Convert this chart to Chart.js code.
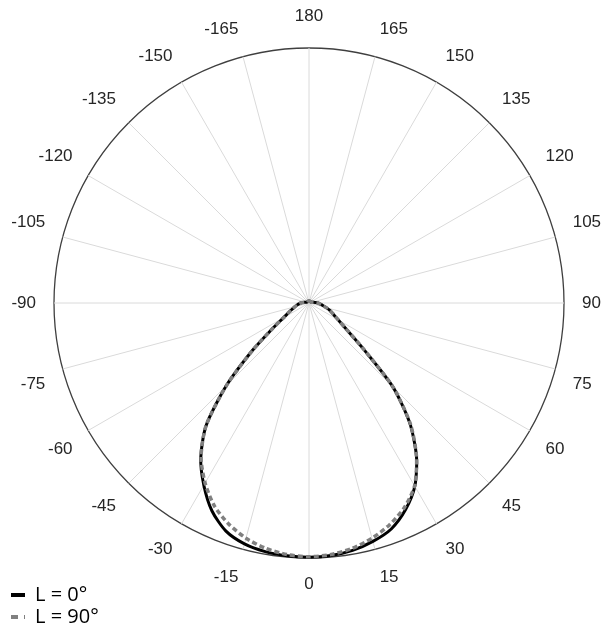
<!DOCTYPE html>
<html>
<head>
<meta charset="utf-8">
<title>Luminous intensity distribution</title>
<script src="https://cdn.jsdelivr.net/npm/chart.js@4.4.1/dist/chart.umd.min.js"></script>
<style>
    html, body { margin: 0; padding: 0; background: #fff; }
    #wrap { width: 606px; height: 629px; position: relative; }
</style>
</head>
<body>
<div id="wrap"><canvas id="polarChart"></canvas></div>
<script>
// gamma angles, clockwise from the top of the diagram (5 degree steps)
const angles = [
    180, 175, 170, 165, 160, 155, 150, 145, 140, 135, 130, 125,
    120, 115, 110, 105, 100, 95, 90, 85, 80, 75, 70, 65,
    60, 55, 50, 45, 40, 35, 30, 25, 20, 15, 10, 5,
    0, -5, -10, -15, -20, -25, -30, -35, -40, -45, -50, -55,
    -60, -65, -70, -75, -80, -85, -90, -95, -100, -105, -110, -115,
    -120, -125, -130, -135, -140, -145, -150, -155, -160, -165, -170, -175
];

// relative intensity, C-plane L = 0°
const intensityL0 = [
    0.008, 0.008, 0.008, 0.008, 0.008, 0.008, 0.008, 0.008, 0.008, 0.008, 0.008, 0.008,
    0.008, 0.008, 0.010, 0.013, 0.018, 0.025, 0.035, 0.043, 0.055, 0.070, 0.088, 0.106,
    0.132, 0.178, 0.275, 0.465, 0.615, 0.735, 0.830, 0.895, 0.943, 0.968, 0.985, 0.994,
    0.997, 0.995, 0.990, 0.978, 0.952, 0.900, 0.825, 0.740, 0.628, 0.458, 0.290, 0.175,
    0.115, 0.088, 0.070, 0.058, 0.048, 0.040, 0.033, 0.025, 0.018, 0.013, 0.010, 0.008,
    0.008, 0.008, 0.008, 0.008, 0.008, 0.008, 0.008, 0.008, 0.008, 0.008, 0.008, 0.008
];

// relative intensity, C-plane L = 90°
const intensityL90 = [
    0.008, 0.008, 0.008, 0.008, 0.008, 0.008, 0.008, 0.008, 0.008, 0.008, 0.008, 0.008,
    0.008, 0.008, 0.010, 0.013, 0.018, 0.025, 0.035, 0.043, 0.055, 0.070, 0.088, 0.106,
    0.132, 0.178, 0.275, 0.465, 0.618, 0.735, 0.828, 0.885, 0.925, 0.955, 0.977, 0.990,
    0.995, 0.990, 0.977, 0.955, 0.922, 0.878, 0.815, 0.738, 0.628, 0.458, 0.290, 0.175,
    0.115, 0.088, 0.070, 0.058, 0.048, 0.040, 0.033, 0.025, 0.018, 0.013, 0.010, 0.008,
    0.008, 0.008, 0.008, 0.008, 0.008, 0.008, 0.008, 0.008, 0.008, 0.008, 0.008, 0.008
];

const seriesNames = ['L = 0°', 'L = 90°'];

const TOP_LABEL = 0;      // index of "180"
const BOTTOM_LABEL = 36;  // index of "0"

function buildChart() {
    const ctx = document.getElementById('polarChart').getContext('2d');

    new Chart(ctx, {
        type: 'radar',
        data: {
            labels: angles,
            datasets: [
                {
                    label: seriesNames[0],
                    data: intensityL0,
                    borderColor: '#000000',
                    borderWidth: 3,
                    pointRadius: 0,
                    fill: false,
                    tension: 0.25,
                    order: 2
                },
                {
                    label: seriesNames[1],
                    data: intensityL90,
                    borderColor: '#808080',
                    borderWidth: 3.5,
                    borderDash: [5, 3],
                    pointRadius: 0,
                    fill: false,
                    tension: 0.25,
                    order: 1
                }
            ]
        },
        options: {
            responsive: true,
            maintainAspectRatio: false,
            animation: false,
            layout: {
                padding: { left: 9, right: 1, top: 0, bottom: 0 }
            },
            scales: {
                r: {
                    min: 0,
                    max: 1,
                    startAngle: 0,
                    ticks: { display: false, stepSize: 1 },
                    grid: { circular: true, color: '#3f3f3f', lineWidth: 1.3 },
                    angleLines: {
                        // spokes only every 15 degrees
                        color: (c) => c.index % 3 === 0 ? '#dadada' : 'rgba(0,0,0,0)',
                        lineWidth: 1
                    },
                    pointLabels: {
                        // top / bottom labels sized so the circle sits a bit above the middle
                        padding: (c) => c.index === BOTTOM_LABEL ? -8 : (c.index === TOP_LABEL ? 24 : 18),
                        color: '#262626',
                        font: (c) => ({
                            family: 'Liberation Sans, Arial, sans-serif',
                            size: 17,
                            lineHeight: c.index === BOTTOM_LABEL ? 4 : (c.index === TOP_LABEL ? 0.85 : 1.2)
                        }),
                        callback: (label, index) => index % 3 === 0 ? String(label) : ''
                    }
                }
            },
            plugins: {
                tooltip: { enabled: false },
                legend: {
                    position: 'chartArea',
                    align: 'end',
                    labels: {
                        usePointStyle: true,
                        pointStyleWidth: 14,
                        padding: 2,
                        color: '#1a1a1a',
                        font: { family: 'Open Sans, sans-serif', size: 20 },
                        generateLabels: (chart) => chart.data.datasets.map((ds, i) => ({
                            text: ds.label,
                            datasetIndex: i,
                            fillStyle: ds.borderColor,
                            strokeStyle: ds.borderColor,
                            lineWidth: 4,
                            lineDash: i === 1 ? [7, 6] : [],
                            pointStyle: 'line',
                            hidden: false
                        }))
                    }
                }
            }
        }
    });
}

document.addEventListener('DOMContentLoaded', buildChart);
</script>
</body>
</html>
